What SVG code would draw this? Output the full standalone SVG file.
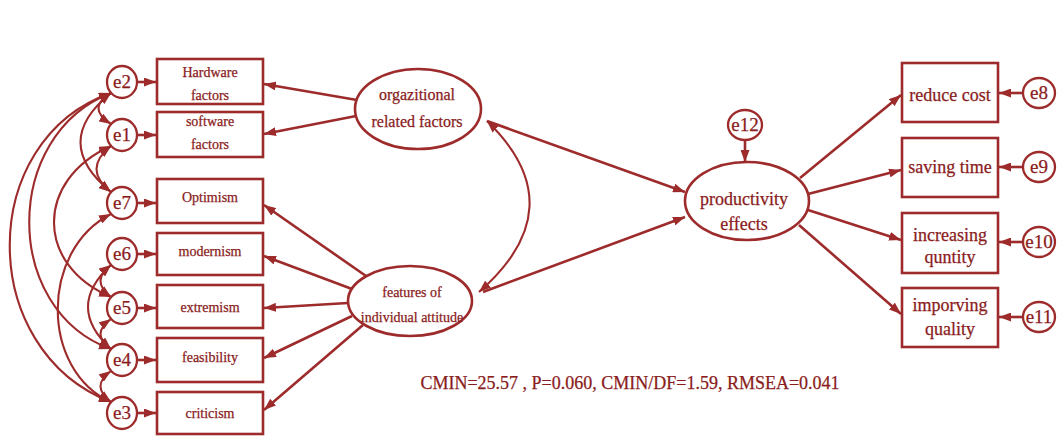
<svg xmlns="http://www.w3.org/2000/svg" width="1059" height="441" viewBox="0 0 1059 441">
<defs>
<marker id="ah" viewBox="0 0 12 9" refX="12" refY="4.5" markerWidth="12" markerHeight="9" markerUnits="userSpaceOnUse" orient="auto-start-reverse">
<path d="M0,0 L12,4.5 L0,9 z" fill="#9e2b2b"/>
</marker>
<style>
.box{fill:#fff;stroke:#9e2b2b;stroke-width:2.6}
.ell{fill:#fff;stroke:#9e2b2b;stroke-width:2.6}
.err{fill:#fff;stroke:#9e2b2b;stroke-width:2.3}
.ln{fill:none;stroke:#9e2b2b;stroke-width:2.6;marker-end:url(#ah)}
.cv{fill:none;stroke:#9e2b2b;stroke-width:2.1;marker-start:url(#ah);marker-end:url(#ah)}
text{font-family:"Liberation Serif","Times New Roman",serif;fill:#8a1c1c;text-anchor:middle;stroke:#8a1c1c;stroke-width:0.25}
.t13{font-size:14px}
.t15{font-size:16px}
.t17{font-size:18px}
.te{font-size:19px}
</style>
</defs>
<rect width="1059" height="441" fill="#fff"/>

<g id="connectors">
<path class="cv" d="M111,93 Q86,108 111,124"/>
<path class="cv" d="M111,146 Q82,169 111,192"/>
<path class="cv" d="M111,93 Q50,142 111,192"/>
<path class="cv" d="M111,93 C-24,140 -24,350 111,402"/>
<path class="cv" d="M111,93 C2,135 2,310 111,349"/>
<path class="cv" d="M111,146 C35,180 35,265 111,297"/>
<path class="cv" d="M111,214 C40,250 40,370 111,402"/>
<path class="cv" d="M111,265 Q65,307 111,349"/>
<path class="cv" d="M111,265 Q90,281 111,297"/>
<path class="cv" d="M111,319 Q90,334 111,349"/>
<path class="cv" d="M111,371 Q90,386 111,402"/>
<line class="ln" x1="137" y1="82" x2="156" y2="82"/>
<line class="ln" x1="137" y1="135" x2="156" y2="135"/>
<line class="ln" x1="137" y1="203" x2="156" y2="203"/>
<line class="ln" x1="137" y1="254" x2="156" y2="254"/>
<line class="ln" x1="137" y1="308" x2="156" y2="308"/>
<line class="ln" x1="137" y1="360" x2="156" y2="360"/>
<line class="ln" x1="137" y1="413" x2="156" y2="413"/>
<line class="ln" x1="357" y1="100" x2="264" y2="84"/>
<line class="ln" x1="356" y1="116" x2="264" y2="134"/>
<line class="ln" x1="366" y1="276" x2="264" y2="205"/>
<line class="ln" x1="352" y1="289" x2="264" y2="256"/>
<line class="ln" x1="348" y1="303" x2="264" y2="308"/>
<line class="ln" x1="352" y1="316" x2="264" y2="358"/>
<line class="ln" x1="363" y1="325" x2="264" y2="410"/>
<path class="cv" d="M487,121 Q576,207 479,292"/>
<line class="ln" x1="487" y1="121" x2="685" y2="192"/>
<line class="ln" x1="483" y1="292" x2="685" y2="217"/>
<line class="ln" x1="745" y1="141" x2="745" y2="162"/>
<line class="ln" x1="800" y1="178" x2="901" y2="95"/>
<line class="ln" x1="808" y1="194" x2="901" y2="170"/>
<line class="ln" x1="808" y1="210" x2="901" y2="240"/>
<line class="ln" x1="799" y1="225" x2="901" y2="314"/>
<line class="ln" x1="1022" y1="93" x2="999" y2="93"/>
<line class="ln" x1="1022" y1="167" x2="999" y2="167"/>
<line class="ln" x1="1022" y1="242" x2="999" y2="242"/>
<line class="ln" x1="1022" y1="317" x2="999" y2="317"/>
</g>

<g id="e2"><ellipse class="err" cx="122" cy="82" rx="15" ry="16"/><text class="te" x="122" y="88">e2</text></g>
<g id="e1"><ellipse class="err" cx="122" cy="135" rx="15" ry="16"/><text class="te" x="122" y="141">e1</text></g>
<g id="e7"><ellipse class="err" cx="122" cy="203" rx="15" ry="16"/><text class="te" x="122" y="209">e7</text></g>
<g id="e6"><ellipse class="err" cx="122" cy="254" rx="15" ry="16"/><text class="te" x="122" y="260">e6</text></g>
<g id="e5"><ellipse class="err" cx="122" cy="308" rx="15" ry="16"/><text class="te" x="122" y="314">e5</text></g>
<g id="e4"><ellipse class="err" cx="122" cy="360" rx="15" ry="16"/><text class="te" x="122" y="366">e4</text></g>
<g id="e3"><ellipse class="err" cx="122" cy="413" rx="15" ry="16"/><text class="te" x="122" y="419">e3</text></g>

<g id="hardware"><rect class="box" x="157" y="59" width="106" height="45"/><text class="t13" x="210" y="77">Hardware</text><text class="t13" x="210" y="100">factors</text></g>
<g id="software"><rect class="box" x="157" y="112" width="106" height="45"/><text class="t13" x="210" y="126">software</text><text class="t13" x="210" y="149">factors</text></g>
<g id="optimism"><rect class="box" x="157" y="179" width="106" height="44"/><text class="t13" x="210" y="202">Optimism</text></g>
<g id="modernism"><rect class="box" x="157" y="233" width="106" height="42"/><text class="t13" x="210" y="256">modernism</text></g>
<g id="extremism"><rect class="box" x="157" y="285" width="106" height="43"/><text class="t13" x="210" y="312">extremism</text></g>
<g id="feasibility"><rect class="box" x="157" y="338" width="106" height="44"/><text class="t13" x="210" y="362">feasibility</text></g>
<g id="criticism"><rect class="box" x="157" y="392" width="106" height="42"/><text class="t13" x="210" y="418">criticism</text></g>

<g id="org"><ellipse class="ell" cx="418" cy="109" rx="63" ry="40"/><text class="t15" x="417" y="100">orgazitional</text><text class="t15" x="417" y="127">related factors</text></g>
<g id="features"><ellipse class="ell" cx="410" cy="301" rx="62" ry="35"/><text class="t13" x="412" y="297">features of</text><text class="t13" x="412" y="322">individual attitude</text></g>

<g id="e12"><ellipse class="err" cx="745" cy="125" rx="17" ry="15"/><text class="te" x="745" y="131">e12</text></g>
<g id="productivity"><ellipse class="ell" cx="747" cy="201" rx="62" ry="39"/><text class="t17" x="744" y="205">productivity</text><text class="t17" x="744" y="230">effects</text></g>

<g id="reduce"><rect class="box" x="902" y="63" width="96" height="59"/><text class="t17" x="950" y="101">reduce cost</text></g>
<g id="saving"><rect class="box" x="902" y="138" width="96" height="59"/><text class="t17" x="950" y="173">saving time</text></g>
<g id="increasing"><rect class="box" x="902" y="213" width="96" height="60"/><text class="t17" x="950" y="241">increasing</text><text class="t17" x="950" y="263">quntity</text></g>
<g id="improving"><rect class="box" x="902" y="288" width="96" height="59"/><text class="t17" x="950" y="311">imporving</text><text class="t17" x="950" y="335">quality</text></g>

<g id="e8"><ellipse class="err" cx="1039" cy="93" rx="16" ry="15"/><text class="te" x="1039" y="99">e8</text></g>
<g id="e9"><ellipse class="err" cx="1039" cy="167" rx="16" ry="15"/><text class="te" x="1039" y="173">e9</text></g>
<g id="e10"><ellipse class="err" cx="1039" cy="242" rx="16" ry="15"/><text class="te" x="1039" y="248">e10</text></g>
<g id="e11"><ellipse class="err" cx="1039" cy="317" rx="16" ry="15"/><text class="te" x="1039" y="323">e11</text></g>

<text x="630" y="389" style="font-size:18px">CMIN=25.57 , P=0.060, CMIN/DF=1.59, RMSEA=0.041</text>
</svg>
